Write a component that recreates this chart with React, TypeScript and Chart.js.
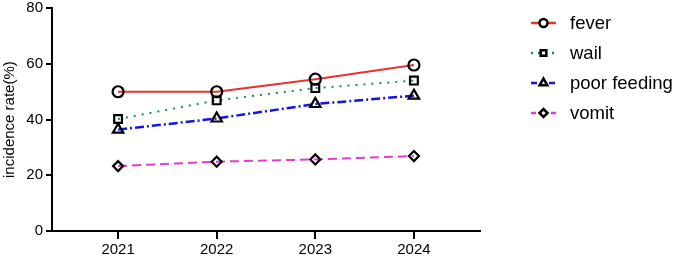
import React, { useEffect, useRef } from "react";
import { Chart, registerables } from "chart.js";
import { drawPoint } from "chart.js/helpers";

Chart.register(...registerables);

const years = [2021, 2022, 2023, 2024];
const yTicks = [0, 20, 40, 60, 80];
const fever = [50, 50, 54.5, 59.6];
const wail = [40.2, 46.9, 51.3, 54];
const poorFeeding = [36.4, 40.4, 45.6, 48.6];
const vomit = [23.3, 24.9, 25.7, 26.9];

const seriesNames = ["fever", "wail", "poor feeding", "vomit"];
const seriesValues = [fever, wail, poorFeeding, vomit];
const seriesColors = ["#e8332e", "#1b8a5a", "#1414e6", "#e23ccf"];
const seriesDash = [[], [2, 6], [9, 3, 2, 3], [9, 5]];
const seriesPoints = ["circle", "rect", "triangle", "rectRot"];
const seriesRadius = [5.5, 5.5, 6, 5];

const FONT = "'Liberation Sans', Arial, Helvetica, sans-serif";

const legendPlugin = {
  id: "customLegend",
  afterDraw(chart: any) {
    const ctx = chart.ctx;
    ctx.save();
    chart.data.datasets.forEach((ds: any, i: number) => {
      const y = 23 + i * 30;
      ctx.strokeStyle = ds.borderColor;
      ctx.lineWidth = 2.5;
      ctx.setLineDash(i === 1 ? [2, 5] : i === 2 ? [6, 3] : i === 3 ? [5, 5] : []);
      ctx.beginPath();
      ctx.moveTo(531, y);
      ctx.lineTo(556, y);
      ctx.stroke();
      ctx.setLineDash([]);
      ctx.strokeStyle = "#000";
      ctx.fillStyle = "#fff";
      ctx.lineWidth = 2.5;
      drawPoint(ctx, { pointStyle: ds.pointStyle, radius: i === 2 ? 4.5 : 4, rotation: 0, borderWidth: 2.5 }, 543.5, y);
      ctx.fillStyle = "#000";
      ctx.font = `18.5px ${FONT}`;
      ctx.textBaseline = "middle";
      ctx.textAlign = "left";
      ctx.fillText(ds.label, 570, y + 1);
    });
    ctx.restore();
  },
};

export default function App() {
  const ref = useRef<HTMLCanvasElement>(null);
  useEffect(() => {
    if (!ref.current) return;
    const chart = new Chart(ref.current, {
      type: "line",
      data: {
        datasets: seriesNames.map((name, i) => ({
          label: name,
          data: years.map((yr, j) => ({ x: yr, y: seriesValues[i][j] })),
          borderColor: seriesColors[i],
          borderWidth: i === 2 ? 2.5 : 2,
          borderDash: seriesDash[i],
          pointStyle: seriesPoints[i] as any,
          pointRadius: seriesRadius[i],
          pointBorderColor: "#000",
          pointBackgroundColor: "rgba(255,255,255,0)",
          pointBorderWidth: 2.2,
          tension: 0,
          fill: false,
        })),
      },
      options: {
        animation: false,
        responsive: false,
        maintainAspectRatio: false,
        layout: { padding: { left: 0, top: 7, right: 195, bottom: 0 } },
        plugins: { legend: { display: false }, tooltip: { enabled: false } },
        scales: {
          x: {
            type: "linear",
            min: 2020.33,
            max: 2024.67,
            afterBuildTicks: (scale: any) => {
              scale.ticks = years.map((v) => ({ value: v }));
            },
            afterFit: (scale: any) => {
              scale.height = 31;
              scale.paddingLeft = 0;
              scale.paddingRight = 0;
            },
            border: { display: true, color: "#000", width: 2 },
            grid: { drawOnChartArea: false, drawTicks: true, tickLength: 8, color: "#000", lineWidth: 2 },
            ticks: {
              color: "#000",
              font: { family: FONT, size: 15 },
              padding: 2,
              callback: (v: any) => String(v),
              maxRotation: 0,
            },
          },
          y: {
            min: 0,
            max: 80,
            afterBuildTicks: (scale: any) => {
              scale.ticks = yTicks.map((v) => ({ value: v }));
            },
            afterFit: (scale: any) => {
              scale.width = 52;
              scale.paddingTop = 0;
              scale.paddingBottom = 0;
            },
            border: { display: true, color: "#000", width: 2 },
            grid: { drawOnChartArea: false, drawTicks: true, tickLength: 6, color: "#000", lineWidth: 2 },
            ticks: {
              color: "#000",
              font: { family: FONT, size: 15 },
              padding: 3,
            },
            title: {
              display: true,
              text: "incidence rate(%)",
              color: "#000",
              font: { family: FONT, size: 15 },
              padding: { top: 1, bottom: 0 },
            },
          },
        },
      },
      plugins: [legendPlugin],
    });
    return () => chart.destroy();
  }, []);
  return (
    <div style={{ position: "fixed", left: 0, top: 0, width: 675, height: 262, background: "#fff" }}>
      <canvas ref={ref} width={675} height={262} style={{ width: 675, height: 262 }} />
    </div>
  );
}
